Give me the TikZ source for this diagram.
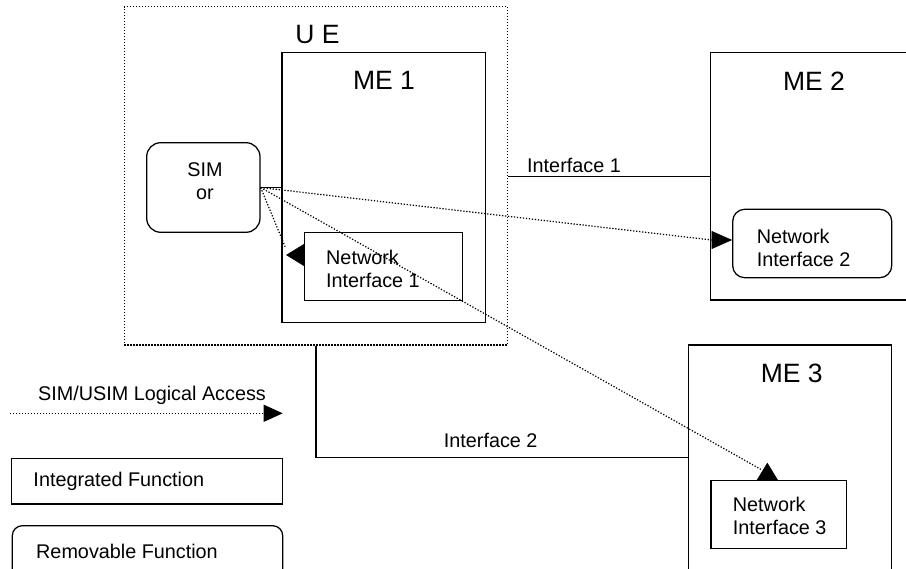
\documentclass[tikz,border=0pt]{standalone}
\usepackage{fontspec}
\setmainfont{Liberation Sans}
\usetikzlibrary{arrows.meta}

\begin{document}
\begin{tikzpicture}[x=1pt,y=-1pt]

    \tikzset{
      box/.style={draw, line width=1.25pt, inner sep=0pt, rectangle},
      rbox/.style={box, rounded corners=#1},
      rbox/.default=14pt,
      ubox/.style={box, line width=1.2pt, dash pattern=on 1.3pt off 1.7pt},
      line/.style={line width=1.25pt},
      logical/.style={line width=1.2pt, dash pattern=on 1.3pt off 1.7pt},
      head/.style 2 args={line width=0.6pt, -{Triangle[length=#1,width=#2]}},
      txt/.style={font=\fontsize{19.8}{23}\selectfont, inner sep=0pt},
      bigtxt/.style={font=\fontsize{26.5}{30}\selectfont, inner sep=0pt},
    }
    \clip (0,0) rectangle (906,569);

	\node[ubox, minimum width=383.4pt, minimum height=338.3pt] (ue) at (316,175.85) {};
	\node[box, minimum width=203.7pt, minimum height=270.4pt] (me1) at (383.85,187.5) {};
	\node[box, minimum width=229.3pt, minimum height=247.5pt] (me2) at (825.35,176.25) {};
	\node[box, minimum width=203.4pt, minimum height=255pt] (me3) at (790,472.5) {};
	\node[rbox, minimum width=113.3pt, minimum height=89.6pt] (sim) at (203.35,187.5) {};
	\node[box, minimum width=158pt, minimum height=68pt] (ni1) at (383.7,266.7) {};
	\node[rbox=12pt, minimum width=159pt, minimum height=68.4pt] (ni2) at (812.2,243.5) {};
	\node[box, minimum width=135.7pt, minimum height=67.6pt] (ni3) at (778.85,514.5) {};

	\node[bigtxt] (uelbl) at (317.5,35) {U E};
	\node[bigtxt] (me1lbl) at (384,80) {ME 1};
	\node[bigtxt] (me2lbl) at (814,81) {ME 2};
	\node[bigtxt] (me3lbl) at (791.7,373.3) {ME 3};
	\node[txt, align=center] (simlbl) at (205,181.5) {SIM\\or};
	\node[txt, align=left, anchor=west] (ni1lbl) at (326,268.8) {Network\\Interface 1};
	\node[txt, align=left, anchor=west] (ni2lbl) at (756.7,248.3) {Network\\Interface 2};
	\node[txt, align=left, anchor=west] (ni3lbl) at (732.7,515.8) {Network\\Interface 3};

	\draw[line] (sim.east) -- (sim.east -| me1.west);
	\draw[line] (me2.west) -- (me2.west -| ue.east);
	\draw[line] (ue.south) |- ([yshift=14.8pt]me3.west);
	\node[txt] (if1lbl) at (574,165) {Interface 1};
	\node[txt] (if2lbl) at (490.7,440) {Interface 2};

	\draw[logical] (sim.east) -- ([xshift=-19pt,yshift=20pt]ni1.west);
	\draw[head={18pt}{22pt}] ([yshift=11.7pt]ni1.west) -- ([xshift=-18pt,yshift=11.7pt]ni1.west);
	\draw[logical] (sim.east) -- ([xshift=-20.5pt,yshift=3.5pt]ni2.west);
	\draw[head={20.5pt}{18pt}] ([xshift=-20.5pt,yshift=3.5pt]ni2.west) -- ([yshift=3.5pt]ni2.west);
	\draw[logical] (sim.east) -- ([xshift=-18pt,yshift=10.7pt]ni3.north);
	\draw[head={17.4pt}{21pt}] ([xshift=-11.5pt]ni3.north) -- ([xshift=-11.5pt,yshift=17.4pt]ni3.north);

	\coordinate (lgstart) at (10,413.3);
	\coordinate (lgend) at (282.7,413.3);
	\draw[logical, -{Triangle[length=19pt,width=17pt]}] (lgstart) -- (lgend);
	\node[txt] (lglbl) at (152,395.8) {SIM/USIM Logical Access};
	\node[box, minimum width=271pt, minimum height=45.7pt] (intfn) at (147.2,481.15) {};
	\node[txt, anchor=west] (intlbl) at (33.3,481.7) {Integrated Function};
	\node[rbox=10pt, minimum width=270.4pt, minimum height=74.3pt] (remfn) at (147.5,562.85) {};
	\node[txt, anchor=west] (remlbl) at (36,551.7) {Removable Function};

\end{tikzpicture}
\end{document}
